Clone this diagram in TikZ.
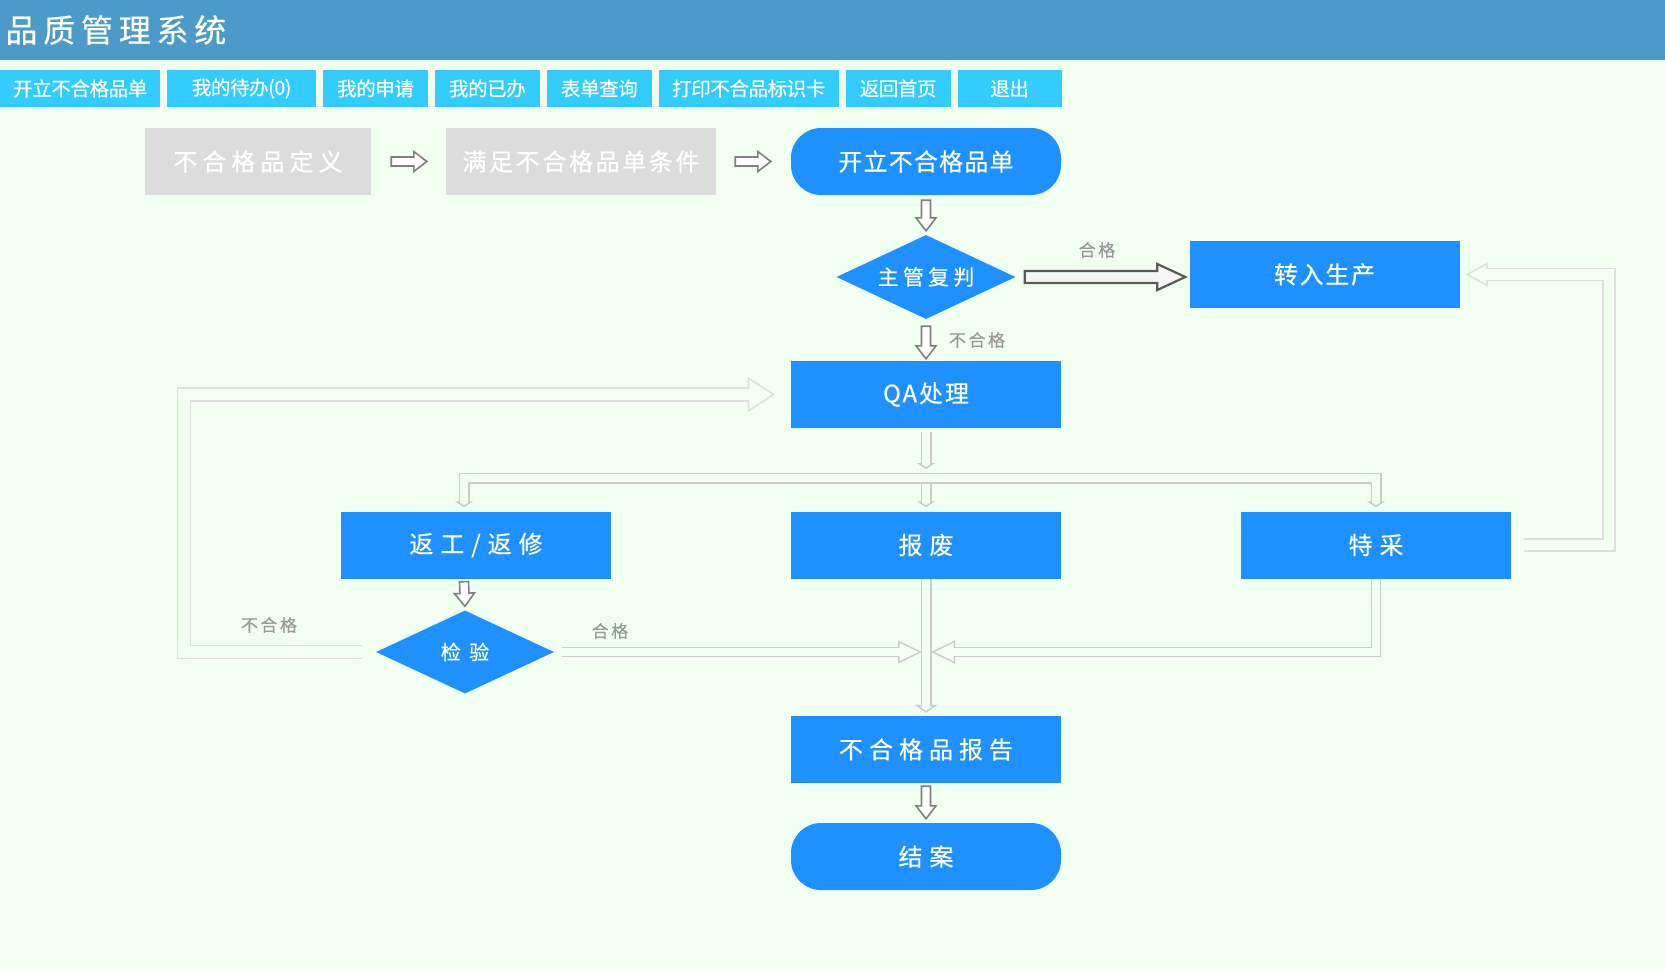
\documentclass[tikz,border=0pt]{standalone}
\usepackage{fontspec}
\setmainfont{Noto Sans CJK SC}
\usetikzlibrary{arrows.meta,positioning,calc,shapes.geometric}

\definecolor{bgc}{HTML}{F0FFF0}
\definecolor{hdr}{HTML}{4A9ACA}
\definecolor{menu}{HTML}{33CCFF}
\definecolor{flow}{HTML}{1E90FF}
\definecolor{idle}{HTML}{DCDCDC}
% size and letter spacing in one go
\newcommand{\ls}[2]{\fontsize{#1}{#1}\selectfont\addfontfeature{LetterSpace=#2,FakeBold=0.4}}

\begin{document}
\begin{tikzpicture}[
  x=1pt, y=-1pt,
  menubtn/.style ={fill=menu, text=white, minimum height=37pt, inner sep=0pt, font=\ls{19.5}{-2}},
  idlebox/.style ={fill=idle, text=white, minimum height=67pt, inner sep=0pt},
  flowbox/.style ={fill=flow, text=white, minimum width=270pt, minimum height=67pt, inner sep=0pt},
  pill/.style    ={flowbox, rounded corners=30pt},
  dia/.style     ={diamond, aspect=2.14, fill=flow, text=white, inner sep=0pt,
                   minimum width=179pt, minimum height=84pt},
  lbl/.style     ={text=black!40, font=\ls{17}{15}},
  blk/.style n args={3}{to path={
      let \p1=(\tikztostart), \p2=(\tikztotarget),
          \n1={atan2(\y2-\y1,\x2-\x1)}, \n2={veclen(\x2-\x1,\y2-\y1)} in
      ($(\p1)+(\n1+90:#1)$) -- ($(\p1)+(\n1:\n2-#3)+(\n1+90:#1)$)
      -- ($(\p1)+(\n1:\n2-#3)+(\n1+90:#2)$) -- (\p2)
      -- ($(\p1)+(\n1:\n2-#3)+(\n1-90:#2)$) -- ($(\p1)+(\n1:\n2-#3)+(\n1-90:#1)$)
      -- ($(\p1)+(\n1-90:#1)$) -- cycle}},
  sarrow/.style  ={draw=black!50, line width=1.6pt, fill=white, blk={4.5pt}{10pt}{13pt}},
  barrow/.style  ={draw=black!65, line width=2.2pt, fill=black!4, blk={6pt}{13pt}{28pt}},
  lite/.style n args={5}{draw=#1, line width=#2,
                   -{Triangle[open, length=#4, width=#5, line width=1.5pt 0 0]},
                   postaction={draw=bgc, line width=#3, -, shorten >=#4-2pt}},
]
\useasboundingbox (0,0) rectangle (1665,969);
\fill[bgc] (0,0) rectangle (1665,969);

% Header and menu row
\fill[hdr] (0,0) rectangle (1665,60);
\node[anchor=west, text=white, font=\ls{32}{18}] (title) at (2,30) {品质管理系统};

\node[menubtn, minimum width=160pt, anchor=west] (mNew) at (0,88.5) {开立不合格品单};
\node[menubtn, minimum width=149pt, right=6.5pt of mNew]   (mTodo)  {我的待办(0)};
\node[menubtn, minimum width=105pt, right=6.5pt of mTodo]  (mApply) {我的申请};
\node[menubtn, minimum width=105pt, right=6.5pt of mApply] (mDone)  {我的已办};
\node[menubtn, minimum width=105pt, right=6.5pt of mDone]  (mQuery) {表单查询};
\node[menubtn, minimum width=180pt, right=6.5pt of mQuery] (mPrint) {打印不合品标识卡};
\node[menubtn, minimum width=105pt, right=6.5pt of mPrint] (mHome)  {返回首页};
\node[menubtn, minimum width=104pt, right=6.5pt of mHome]  (mExit)  {退出};

% Flow nodes
\node[idlebox, minimum width=226pt, font=\ls{24}{21}] (def)  at (258,161.5) {不合格品定义};
\node[idlebox, minimum width=270pt, font=\ls{24}{11}] (cond) at (581,161.5) {满足不合格品单条件};
\node[pill, font=\ls{24}{5}]     (open)    at (926,161.5)  {开立不合格品单};
\node[dia, font=\ls{21}{20}]     (judge)   at (926,277)    {主管复判};
\node[flowbox, font=\ls{24}{7}]  (prod)    at (1324.5,274.5) {转入生产};
\node[flowbox, font=\ls{24}{8}]  (qa)      at (926,394.5)  {QA处理};
\node[flowbox, font=\ls{24}{29}] (rework)  at (476,545)    {返工/返修};
\node[flowbox, font=\ls{24}{29}] (scrap)   at (926,545)    {报废};
\node[flowbox, font=\ls{24}{29}] (special) at (1376,545)   {特采};
\node[dia, minimum width=178pt, minimum height=83pt, font=\ls{20}{20}] (check) at (465,652) {检 验};
\node[flowbox, font=\ls{24}{25}] (report)  at (926,749.5)  {不合格品报告};
\node[pill, font=\ls{24}{29}]    (close)   at (926,856.5)  {结案};

% Dark hollow arrows
\draw[sarrow] ([xshift=20pt]def.east) to ([xshift=-19pt]cond.west);
\draw[sarrow] ([xshift=19pt]cond.east) to ([xshift=-20pt]open.west);
\draw[sarrow] ([yshift=-5pt]open.south) to ([yshift=4pt]judge.north);
\draw[barrow] ([xshift=9pt]judge.east) to ([xshift=-4pt]prod.west |- judge.east);
\draw[sarrow] ([yshift=-7pt]judge.south) to ([yshift=2pt]qa.north);
\draw[sarrow] ([xshift=-12pt,yshift=-3pt]rework.south) to ([yshift=4pt]check.north);
\draw[sarrow] ([yshift=-3pt]report.south) to ([yshift=4pt]close.north);

% Light double connectors
\coordinate (fork) at (926,478);
\draw[lite={black!20}{11pt}{8pt}{6pt}{18pt}] ([yshift=-4pt]qa.south) -- ([yshift=9pt]fork);
\draw[lite={black!20}{11pt}{8pt}{6pt}{18pt}] (fork) -- ([yshift=4pt]scrap.north);
\draw[lite={black!20}{11pt}{8pt}{6pt}{18pt}] (fork) -| ([xshift=-12pt,yshift=4pt]rework.north);
\draw[lite={black!20}{11pt}{8pt}{6pt}{18pt}] (fork) -| ([yshift=4pt]special.north);
\draw[lite={black!20}{11pt}{8pt}{8pt}{23pt}] (scrap.south) -- ([yshift=3pt]report.north);
\draw[lite={black!20}{10.5pt}{7.5pt}{24pt}{23pt}] ([xshift=8pt]check.east)
  -- ([xshift=-4pt]scrap.south |- check.east);
\draw[lite={black!20}{10.5pt}{7.5pt}{24pt}{23pt}] (special.south)
  |- ([xshift=5pt]scrap.south |- check.east);
\draw[lite={black!13}{14.5pt}{11.5pt}{27pt}{35pt}] ([xshift=-14pt]check.west)
  -- ++(-178,0) |- ([xshift=-16pt]qa.west);
\draw[lite={black!13}{13.5pt}{10.5pt}{22pt}{24pt}] ([xshift=13pt]special.east)
  -- ++(85,0) |- ([xshift=6pt]prod.east);

% Branch labels
\node[lbl] (okTop)   at (1097,250) {合格};
\node[lbl] (ngTop)   at (977,340)  {不合格};
\node[lbl] (ngLeft)  at (269,625)  {不合格};
\node[lbl] (okLeft)  at (610,631)  {合格};
\end{tikzpicture}
\end{document}
